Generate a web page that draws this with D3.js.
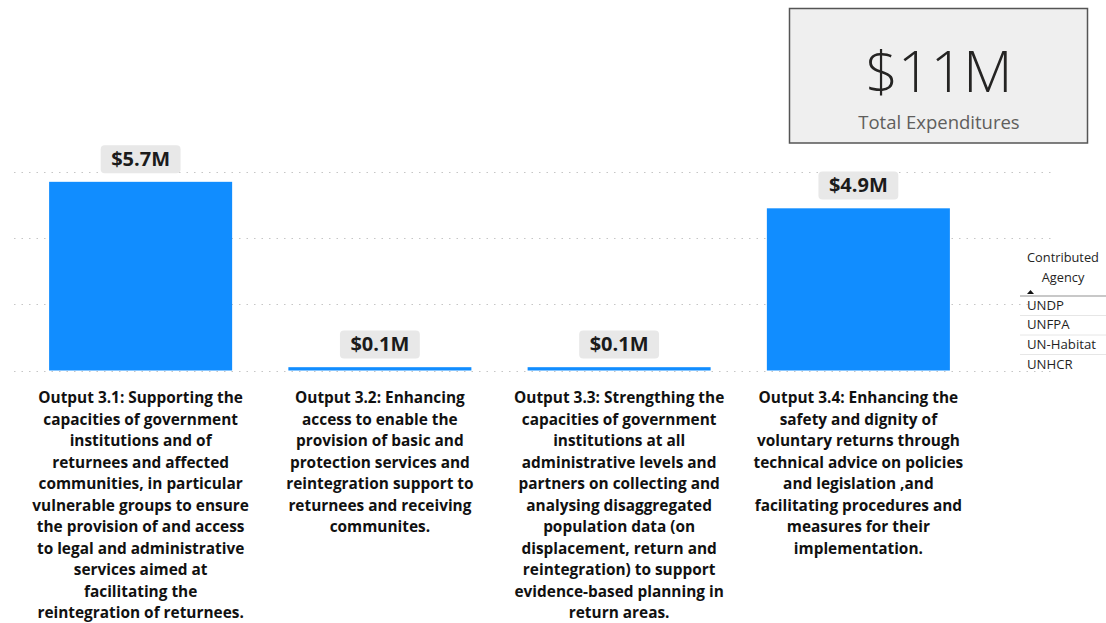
<!DOCTYPE html>
<html>
<head>
<meta charset="utf-8">
<script src="https://cdn.jsdelivr.net/npm/d3@7"></script>
<style>
  html, body { margin: 0; padding: 0; background: #ffffff; }
  svg { display: block; font-family: "Open Sans", "Noto Sans", sans-serif; }
</style>
</head>
<body>
<svg id="chart" width="1106" height="623"></svg>
<script>
// Expenditure per output (USD millions)
const outputs = ["Output 3.1", "Output 3.2", "Output 3.3", "Output 3.4"];
const expenditures = [5.7, 0.1, 0.1, 4.9];

// Category labels, already broken into lines
const outputLabels = [
  ["Output 3.1: Supporting the", "capacities of government", "institutions and of", "returnees and affected",
   "communities, in particular", "vulnerable groups to ensure", "the provision of and access",
   "to legal and administrative", "services aimed at", "facilitating the", "reintegration of returnees."],
  ["Output 3.2: Enhancing", "access to enable the", "provision of basic and", "protection services and",
   "reintegration support to", "returnees and receiving", "communites."],
  ["Output 3.3: Strengthing the", "capacities of government", "institutions at all",
   "administrative levels and", "partners on collecting and", "analysing disaggregated",
   "population data (on", "displacement, return and", "reintegration) to support",
   "evidence-based planning in", "return areas."],
  ["Output 3.4: Enhancing the", "safety and dignity of", "voluntary returns through",
   "technical advice on policies", "and legislation ,and", "facilitating procedures and",
   "measures for their", "implementation."]
];

const gridTicks = [0, 2, 4, 6];
const totalLabel = "$11M";
const totalCaption = "Total Expenditures";
const legendTitle = ["Contributed", "Agency"];
const agencies = ["UNDP", "UNFPA", "UN-Habitat", "UNHCR"];

const svg = d3.select("#chart");

const x = d3.scaleBand()
  .domain(outputs)
  .range([21, 978])
  .paddingInner(0.235)
  .paddingOuter(0.1175);

const y = d3.scaleLinear()
  .domain([0, 6])
  .range([370.5, 171.9]);

const fmt = v => "$" + d3.format(".1f")(v) + "M";

// dotted gridlines
svg.append("g")
  .selectAll("line")
  .data(gridTicks)
  .join("line")
  .attr("x1", 14)
  .attr("x2", 1056)
  .attr("y1", d => Math.round(y(d)) + 0.5)
  .attr("y2", d => Math.round(y(d)) + 0.5)
  .attr("stroke", "#c6c6c6")
  .attr("stroke-width", 1.2)
  .attr("stroke-dasharray", "1.5,6");

// bars
svg.append("g")
  .selectAll("rect")
  .data(expenditures)
  .join("rect")
  .attr("x", (d, i) => x(outputs[i]))
  .attr("y", d => y(d))
  .attr("width", x.bandwidth())
  .attr("height", d => y(0) - y(d))
  .attr("fill", "#118DFF");

// value labels with rounded background
const vl = svg.append("g")
  .selectAll("g")
  .data(expenditures)
  .join("g")
  .attr("transform", (d, i) => `translate(${x(outputs[i]) + x.bandwidth() / 2},${y(d) - 8.7})`);

vl.each(function (d) {
  const g = d3.select(this);
  const t = g.append("text")
    .attr("text-anchor", "middle")
    .attr("y", -7.5)
    .attr("font-size", 20)
    .attr("font-weight", 700)
    .attr("fill", "#1b1b1b")
    .text(fmt(d));
  const w = t.node().getComputedTextLength() + 21;
  g.insert("rect", "text")
    .attr("x", -w / 2)
    .attr("y", -28)
    .attr("width", w)
    .attr("height", 28)
    .attr("rx", 4)
    .attr("fill", "#e8e8e8");
});

// category labels under the bars
const cat = svg.append("g")
  .selectAll("text")
  .data(outputLabels)
  .join("text")
  .attr("text-anchor", "middle")
  .attr("font-size", 15.4)
  .attr("font-weight", 700)
  .attr("fill", "#111111")
  .attr("transform", (d, i) => `translate(${x(outputs[i]) + x.bandwidth() / 2},403)`);

cat.selectAll("tspan")
  .data(d => d)
  .join("tspan")
  .attr("x", 0)
  .attr("y", (d, j) => j * 21.5)
  .text(d => d);

// total card
const card = svg.append("g");
card.append("rect")
  .attr("x", 789.5)
  .attr("y", 8.5)
  .attr("width", 298)
  .attr("height", 134.5)
  .attr("fill", "#efefef")
  .attr("stroke", "#555555")
  .attr("stroke-width", 1.5);
card.append("text")
  .attr("x", 939)
  .attr("y", 92)
  .attr("text-anchor", "middle")
  .attr("font-size", 57)
  .attr("font-weight", 350)
  .attr("fill", "#252423")
  .text(totalLabel);
card.append("text")
  .attr("x", 939)
  .attr("y", 128.5)
  .attr("text-anchor", "middle")
  .attr("font-size", 18.5)
  .attr("fill", "#605e5c")
  .text(totalCaption);

// agency slicer
const leg = svg.append("g");
leg.append("text")
  .attr("text-anchor", "middle")
  .attr("font-size", 12.8)
  .attr("fill", "#252423")
  .selectAll("tspan")
  .data(legendTitle)
  .join("tspan")
  .attr("x", 1063)
  .attr("y", (d, i) => 262 + i * 19.5)
  .text(d => d);
leg.append("path")
  .attr("d", "M1027,294 L1030.5,290 L1034,294 Z")
  .attr("fill", "#111111");
leg.append("line")
  .attr("x1", 1020).attr("x2", 1106)
  .attr("y1", 296).attr("y2", 296)
  .attr("stroke", "#c8c8c8")
  .attr("stroke-width", 2);
leg.selectAll("line.sep")
  .data(agencies.slice(1))
  .join("line")
  .attr("class", "sep")
  .attr("x1", 1020).attr("x2", 1106)
  .attr("y1", (d, i) => 315.5 + i * 19.5)
  .attr("y2", (d, i) => 315.5 + i * 19.5)
  .attr("stroke", "#e6e6e6")
  .attr("stroke-width", 1);
leg.selectAll("text.agency")
  .data(agencies)
  .join("text")
  .attr("class", "agency")
  .attr("x", 1027)
  .attr("y", (d, i) => 309.5 + i * 19.7)
  .attr("font-size", 13.2)
  .attr("fill", "#1f1f1f")
  .text(d => d);
</script>
</body>
</html>
